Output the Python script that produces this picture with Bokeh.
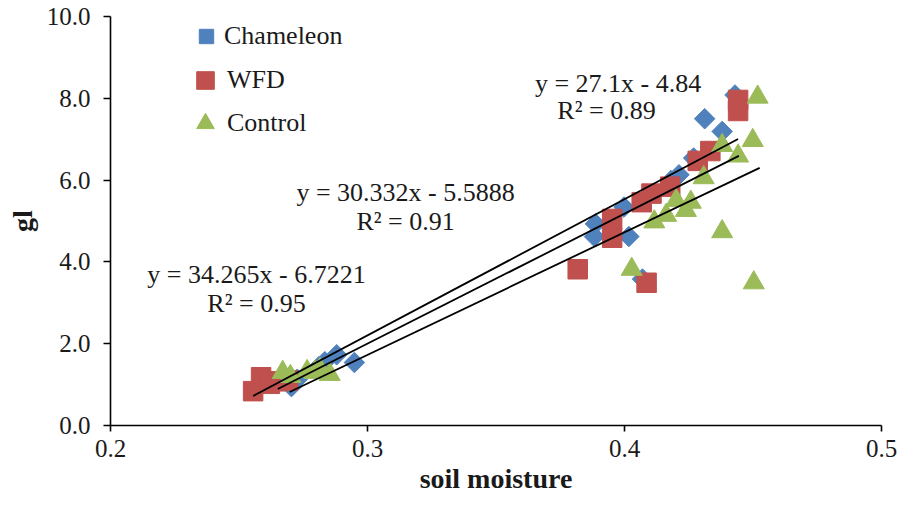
from bokeh.plotting import figure
from bokeh.models import (Range1d, FixedTicker, PrintfTickFormatter, Legend,
                          LegendItem, Label)
from bokeh.embed import file_html
from bokeh.resources import INLINE
import numpy as np

# ---------------- data ----------------
cham_x = [0.4430, 0.4312, 0.4380, 0.4269, 0.4212, 0.4181, 0.3998, 0.3887,
          0.3883, 0.4017, 0.4070, 0.2880, 0.2949, 0.2834, 0.2811, 0.2727, 0.2704]
cham_y = [8.08, 7.50, 7.19, 6.54, 6.13, 5.99, 5.34, 4.93,
          4.62, 4.62, 3.58, 1.73, 1.54, 1.56, 1.44, 1.13, 0.95]

wfd_x = [0.4442, 0.4442, 0.4334, 0.4285, 0.4178, 0.4105, 0.4067, 0.3952,
         0.3952, 0.3818, 0.4086, 0.2555, 0.2586, 0.2620, 0.2650, 0.2690]
wfd_y = [7.96, 7.69, 6.71, 6.47, 5.84, 5.67, 5.46, 5.05,
         4.59, 3.82, 3.49, 0.84, 1.18, 1.02, 1.08, 1.10]

ctrl_x = [0.4518, 0.4499, 0.4442, 0.4380, 0.4308, 0.4258, 0.4201, 0.4239,
          0.4162, 0.4116, 0.4380, 0.4028, 0.4503, 0.2670, 0.2700, 0.2765,
          0.2796, 0.2815, 0.2853]
ctrl_y = [8.03, 6.97, 6.59, 6.85, 6.06, 5.46, 5.50, 5.26,
          5.14, 4.98, 4.74, 3.82, 3.49, 1.30, 1.20, 1.32,
          1.30, 1.37, 1.25]

# trend lines as drawn (WFD, Chameleon, Control)
trend_x0 = [0.2555, 0.2651, 0.2697]
trend_x1 = [0.4442, 0.4445, 0.4526]
trend_slope = [33.28, 31.77, 29.96]
trend_icept = [-7.78, -7.53, -7.26]

eq_text = ["y = 27.1x - 4.84", "R\u00b2 = 0.89",
           "y = 30.332x - 5.5888", "R\u00b2 = 0.91",
           "y = 34.265x - 6.7221", "R\u00b2 = 0.95"]
eq_x = [0.3975, 0.3930, 0.3148, 0.3148, 0.2568, 0.2568]
eq_y = [8.37, 7.69, 5.70, 5.00, 3.69, 2.99]

x_ticks = [0.2, 0.3, 0.4, 0.5]
y_ticks = [0, 2, 4, 6, 8, 10]

series_names = ["Chameleon", "WFD", "Control"]
# ---------------------------------------------------------------

FONT = "Liberation Serif"
TXT = "#1a1a1a"
BLUE, RED, GREEN = "#4F81BD", "#C0504D", "#9BBB59"

p = figure(width=897, height=496, output_backend="svg", toolbar_location=None,
           x_range=Range1d(0.2, 0.5), y_range=Range1d(0, 10),
           min_border_left=110, min_border_right=16,
           min_border_top=16, min_border_bottom=69)
p.outline_line_color = None
p.xgrid.visible = False
p.ygrid.visible = False
p.background_fill_color = "white"
p.border_fill_color = "white"

r_c = p.scatter(cham_x, cham_y, marker="square", size=14.5, angle=np.pi / 4,
                fill_color=BLUE, line_color=BLUE)
r_w = p.scatter(wfd_x, wfd_y, marker="square", size=19.5,
                fill_color=RED, line_color=RED)
r_t = p.scatter(ctrl_x, ctrl_y, marker="triangle", size=21,
                fill_color=GREEN, line_color=GREEN)

for x0, x1, m, b in zip(trend_x0, trend_x1, trend_slope, trend_icept):
    xs = np.array([x0, x1])
    p.line(xs, m * xs + b, line_color="black", line_width=1.8)

for txt, lx, ly in zip(eq_text, eq_x, eq_y):
    p.add_layout(Label(x=lx, y=ly, text=txt, text_align="center",
                       text_baseline="middle", text_font=FONT,
                       text_font_size="26px", text_color=TXT))

# axes
for ax in (p.xaxis[0], p.yaxis[0]):
    ax.axis_line_color = "black"
    ax.axis_line_width = 1.6
    ax.major_tick_line_color = "black"
    ax.major_tick_line_width = 1.6
    ax.major_tick_in = 0
    ax.minor_tick_line_color = None
    ax.major_label_text_font = FONT
    ax.major_label_text_font_size = "25px"
    ax.major_label_text_color = TXT
    ax.axis_label_text_font = FONT
    ax.axis_label_text_font_size = "28px"
    ax.axis_label_text_font_style = "bold"
    ax.axis_label_text_color = TXT
    ax.formatter = PrintfTickFormatter(format="%.1f")

p.xaxis.ticker = FixedTicker(ticks=x_ticks)
p.yaxis.ticker = FixedTicker(ticks=y_ticks)
p.xaxis.major_tick_out = 6
p.yaxis.major_tick_out = 7
p.xaxis.major_label_standoff = 8
p.yaxis.major_label_standoff = 13
p.xaxis.axis_label = "soil moisture"
p.yaxis.axis_label = "gl"
p.xaxis.axis_label_standoff = 3
p.yaxis.axis_label_standoff = 6

# legend: one box per entry so each marker gets its own size
renderers = [r_c, r_w, r_t]
glyph_sz = [36, 44, 44]
locs = [(78, 371), (73, 323), (73, 280)]
stand = [-6, -9, -9]
for name, r, g, loc, s in zip(series_names, renderers, glyph_sz, locs, stand):
    leg = Legend(items=[LegendItem(label=name, renderers=[r])], location=loc,
                 glyph_width=g, glyph_height=g, label_standoff=s,
                 padding=0, margin=0, spacing=0,
                 border_line_alpha=0, background_fill_alpha=0,
                 label_text_font=FONT, label_text_font_size="26px",
                 label_text_color=TXT)
    p.add_layout(leg, "center")

open("out.html", "w").write(file_html(p, INLINE))
